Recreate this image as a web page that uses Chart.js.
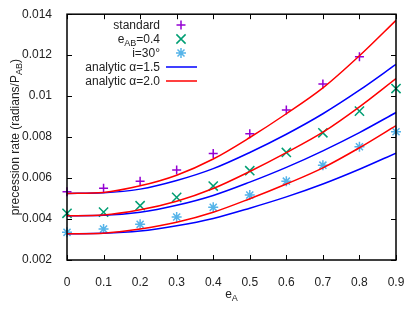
<!DOCTYPE html>
<html>
<head>
<meta charset="utf-8">
<script src="https://cdn.jsdelivr.net/npm/chart.js@4.4.1/dist/chart.umd.min.js"></script>
<style>
	html, body { margin: 0; padding: 0; background: #fff; }
	#wrap { width: 415px; height: 318px; }
</style>
</head>
<body>
<div id="wrap"><canvas id="precessionChart"></canvas></div>
<script>
// eccentricity grid (x axis)
const eA = [0, 0.1, 0.2, 0.3, 0.4, 0.5, 0.6, 0.7, 0.8, 0.9];
const xTickLabels = ['0', '0.1', '0.2', '0.3', '0.4', '0.5', '0.6', '0.7', '0.8', '0.9'];
const yTickLabels = ['0.002', '0.004', '0.006', '0.008', '0.01', '0.012', '0.014'];

// simulation points
const standard = [0.00533, 0.00550, 0.00585, 0.00639, 0.00720, 0.00816, 0.00932, 0.01059, 0.01192];
const eAB04 = [0.00428, 0.00434, 0.00465, 0.00506, 0.00561, 0.00636, 0.00725, 0.00821, 0.00927, 0.01037];
const incl30 = [0.00335, 0.00351, 0.00374, 0.00410, 0.00457, 0.00517, 0.00585, 0.00663, 0.00753, 0.00826];

// analytic curves, alpha = 1.5
const std15 = [0.00525, 0.00528, 0.00546, 0.00588, 0.00646, 0.00725, 0.00814, 0.00914, 0.01029, 0.01155];
const eab15 = [0.00416, 0.00418, 0.00433, 0.00467, 0.00515, 0.00580, 0.00652, 0.00733, 0.00822, 0.00920];
const inc15 = [0.00328, 0.00330, 0.00341, 0.00367, 0.00403, 0.00453, 0.00508, 0.00571, 0.00643, 0.00722];

// analytic curves, alpha = 2.0
const std20 = [0.00525, 0.00530, 0.00562, 0.00614, 0.00693, 0.00798, 0.00914, 0.01040, 0.01197, 0.01370];
const eab20 = [0.00416, 0.00420, 0.00445, 0.00487, 0.00549, 0.00632, 0.00724, 0.00824, 0.00948, 0.01086];
const inc20 = [0.00328, 0.00331, 0.00351, 0.00384, 0.00433, 0.00499, 0.00571, 0.00650, 0.00748, 0.00856];

const PURPLE = '#9400d3';
const GREEN = '#009e73';
const CYAN = '#56b4e9';
const BLUE = '#0000ff';
const RED = '#ff0000';
const FONT = '"Liberation Sans", Arial, sans-serif';

function pts(ys) {
	return ys.map((y, i) => ({ x: eA[i], y: y }));
}

function markerSet(label, ys, color, style, radius) {
	return {
		label: label,
		data: pts(ys),
		showLine: false,
		pointStyle: style,
		pointRadius: radius,
		pointBorderColor: color,
		pointBackgroundColor: color,
		pointBorderWidth: 1.5,
		clip: false,
		order: 2
	};
}

function curveSet(label, ys, color, order) {
	return {
		label: label,
		data: pts(ys),
		showLine: true,
		borderColor: color,
		borderWidth: 1.5,
		pointRadius: 0,
		cubicInterpolationMode: 'monotone',
		order: order
	};
}

// text with subscripts: parts = [[text, isSub], ...]
function drawParts(ctx, parts, x, y, align) {
	const big = '12px ' + FONT;
	const small = '9px ' + FONT;
	let total = 0;
	parts.forEach(p => {
		ctx.font = p[1] ? small : big;
		total += ctx.measureText(p[0]).width;
	});
	let cx = x;
	if (align === 'right') cx = x - total;
	if (align === 'center') cx = x - total / 2;
	ctx.textAlign = 'left';
	ctx.textBaseline = 'alphabetic';
	parts.forEach(p => {
		ctx.font = p[1] ? small : big;
		ctx.fillText(p[0], cx, p[1] ? y + 3 : y);
		cx += ctx.measureText(p[0]).width;
	});
}

function drawMark(ctx, style, x, y, color) {
	ctx.save();
	ctx.strokeStyle = color;
	ctx.lineWidth = 1.5;
	ctx.beginPath();
	if (style === 'cross' || style === 'star') {
		const r = style === 'star' ? 5 : 4.5;
		ctx.moveTo(x - r, y); ctx.lineTo(x + r, y);
		ctx.moveTo(x, y - r); ctx.lineTo(x, y + r);
	}
	if (style === 'crossRot' || style === 'star') {
		const d = style === 'star' ? 3.5 : 4.6;
		ctx.moveTo(x - d, y - d); ctx.lineTo(x + d, y + d);
		ctx.moveTo(x - d, y + d); ctx.lineTo(x + d, y - d);
	}
	ctx.stroke();
	ctx.restore();
}

const framePlugin = {
	id: 'frame',
	afterDraw(chart) {
		const ctx = chart.ctx;
		const a = chart.chartArea;
		const sx = chart.scales.x;
		const sy = chart.scales.y;
		ctx.save();
		ctx.strokeStyle = '#000';
		ctx.lineWidth = 1;
		ctx.beginPath();
		sx.ticks.forEach(t => {
			const px = Math.round(sx.getPixelForValue(t.value)) + 0.5;
			ctx.moveTo(px, a.bottom); ctx.lineTo(px, a.bottom - 5);
			ctx.moveTo(px, a.top); ctx.lineTo(px, a.top + 5);
		});
		sy.ticks.forEach(t => {
			const py = Math.round(sy.getPixelForValue(t.value)) + 0.5;
			ctx.moveTo(a.left, py); ctx.lineTo(a.left + 5, py);
			ctx.moveTo(a.right, py); ctx.lineTo(a.right - 5, py);
		});
		ctx.stroke();
		ctx.lineWidth = 1.5;
		ctx.strokeRect(a.left, a.top, a.right - a.left, a.bottom - a.top);

		// axis titles
		ctx.fillStyle = '#222';
		drawParts(ctx, [['e', false], ['A', true]], (a.left + a.right) / 2, 298, 'center');
		ctx.save();
		ctx.translate(19, (a.top + a.bottom) / 2);
		ctx.rotate(-Math.PI / 2);
		drawParts(ctx, [['precession rate (radians/P', false], ['AB', true], [')', false]], 0, 0, 'center');
		ctx.restore();

		// legend
		const tx = 160, mx = 181;
		const rows = [
			{ parts: [['standard', false]], mark: 'cross', color: PURPLE },
			{ parts: [['e', false], ['AB', true], ['=0.4', false]], mark: 'crossRot', color: GREEN },
			{ parts: [['i=30°', false]], mark: 'star', color: CYAN },
			{ parts: [['analytic α=1.5', false]], line: BLUE },
			{ parts: [['analytic α=2.0', false]], line: RED }
		];
		rows.forEach((r, i) => {
			const y = 25 + i * 14;
			ctx.fillStyle = '#222';
			drawParts(ctx, r.parts, tx, y + 4, 'right');
			if (r.mark) {
				drawMark(ctx, r.mark, mx, y, r.color);
			} else {
				ctx.strokeStyle = r.line;
				ctx.lineWidth = 1.5;
				ctx.beginPath();
				ctx.moveTo(166, y); ctx.lineTo(197, y);
				ctx.stroke();
			}
		});
		ctx.restore();
	}
};

const ctxPrec = document.getElementById('precessionChart');
const precChart = new Chart(ctxPrec, {
	type: 'scatter',
	data: {
		datasets: [
			markerSet('standard', standard, PURPLE, 'cross', 4.5),
			markerSet('eAB=0.4', eAB04, GREEN, 'crossRot', 6.5),
			markerSet('i=30°', incl30, CYAN, 'star', 5),
			curveSet('analytic α=1.5', std15, BLUE, 1),
			curveSet('analytic α=1.5', eab15, BLUE, 1),
			curveSet('analytic α=1.5', inc15, BLUE, 1),
			curveSet('analytic α=2.0', std20, RED, 0),
			curveSet('analytic α=2.0', eab20, RED, 0),
			curveSet('analytic α=2.0', inc20, RED, 0)
		]
	},
	options: {
		responsive: true,
		maintainAspectRatio: false,
		animation: false,
		devicePixelRatio: 1,
		layout: { padding: { left: 0, top: 14, right: 19, bottom: 0 } },
		plugins: {
			legend: { display: false },
			tooltip: { enabled: false }
		},
		scales: {
			x: {
				type: 'linear',
				min: 0,
				max: 0.9,
				grid: { display: false },
				border: { display: false },
				afterFit: (scale) => { scale.height = 58; },
				ticks: {
					stepSize: 0.1,
					autoSkip: false,
					maxRotation: 0,
					padding: 7,
					color: '#222',
					font: { family: FONT, size: 12 },
					callback: (v) => xTickLabels[Math.round(v * 10)]
				}
			},
			y: {
				type: 'linear',
				min: 0.002,
				max: 0.014,
				grid: { display: false },
				border: { display: false },
				afterFit: (scale) => { scale.width = 67; },
				ticks: {
					stepSize: 0.002,
					autoSkip: false,
					padding: 7,
					color: '#222',
					font: { family: FONT, size: 12 },
					callback: (v) => yTickLabels[Math.round((v - 0.002) / 0.002)]
				}
			}
		}
	},
	plugins: [framePlugin]
});
</script>
</body>
</html>
